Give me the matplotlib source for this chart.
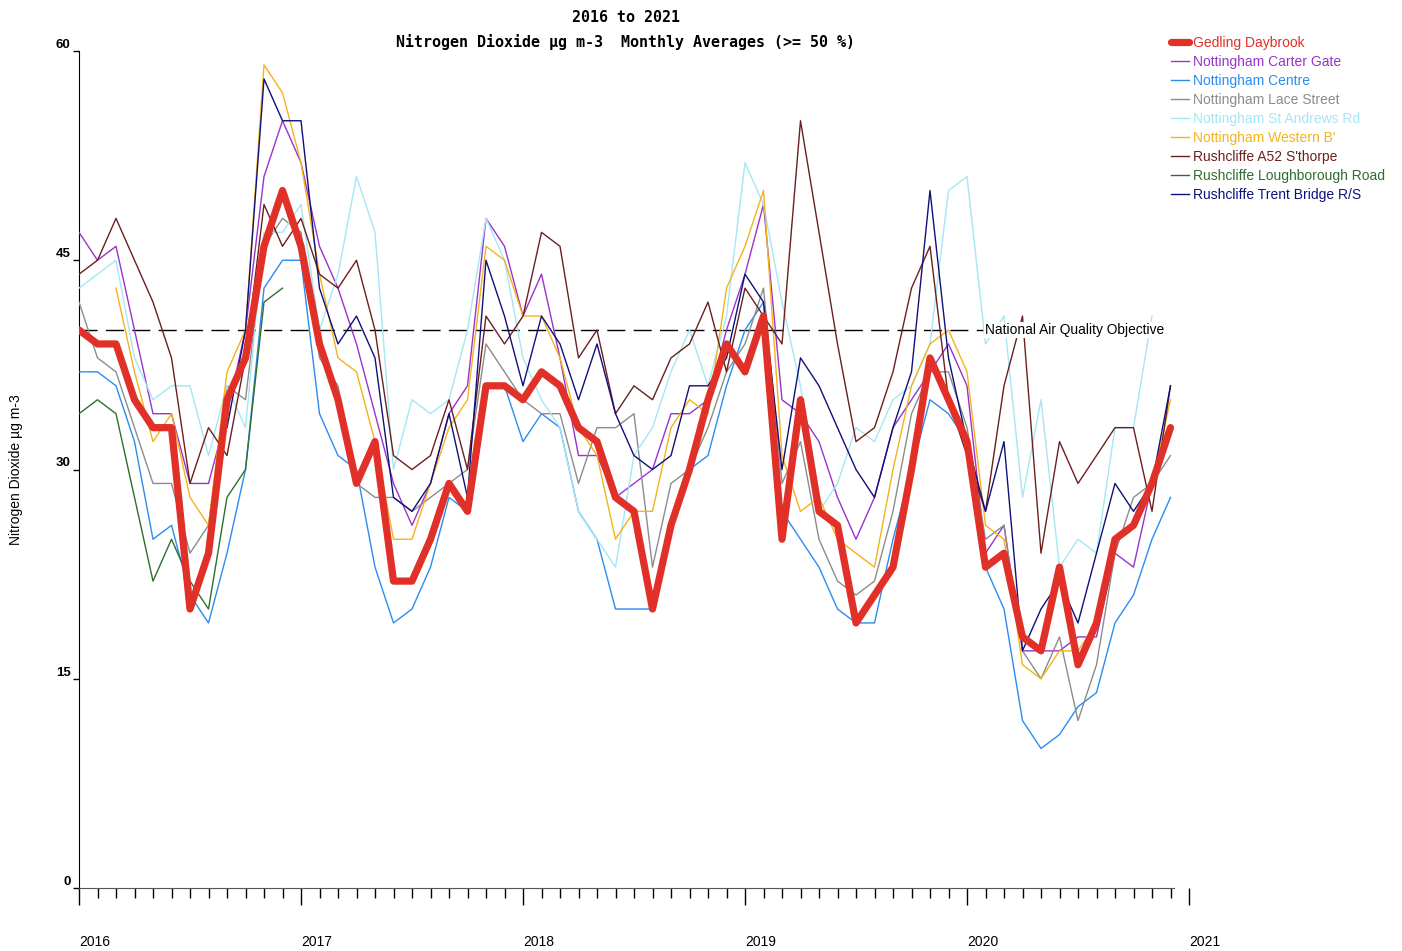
import matplotlib
matplotlib.use("Agg")
import matplotlib.pyplot as plt
import numpy as np

# monthly averages Jan 2016 .. Dec 2020 (None = no data)
months = np.arange(60)
years = ["2016", "2017", "2018", "2019", "2020", "2021"]

gedling = [40, 39, 39, 35, 33, 33, 20, 24, 35, 38,
           46, 50, 46, 39, 35, 29, 32, 22, 22, 25,
           29, 27, 36, 36, 35, 37, 36, 33, 32, 28,
           27, 20, 26, 30, 35, 39, 37, 41, 25, 35,
           27, 26, 19, 21, 23, 30, 38, 35, 32, 23,
           24, 18, 17, 23, 16, 19, 25, 26, 29, 33]
carter_gate = [47, 45, 46, 40, 34, 34, 29, 29, 34, 40,
               51, 55, 52, 46, 43, 39, 34, 29, 26, 29,
               34, 36, 48, 46, 41, 44, 38, 31, 31, 28,
               29, 30, 34, 34, 35, 40, 44, 49, 35, 34,
               32, 28, 25, 28, 33, 35, 37, 39, 36, 24,
               26, 17, 17, 17, 18, 18, 24, 23, 29, 33]
centre = [37, 37, 36, 32, 25, 26, 21, 19, 24, 30,
          43, 45, 45, 34, 31, 30, 23, 19, 20, 23,
          28, 27, 36, 36, 32, 34, 33, 27, 25, 20,
          20, 20, 26, 30, 31, 36, 40, 42, 27, 25,
          23, 20, 19, 19, 25, 30, 35, 34, 32, 23,
          20, 12, 10, 11, 13, 14, 19, 21, 25, 28]
lace_street = [42, 38, 37, 33, 29, 29, 24, 26, 36, 35,
               46, 48, 47, 38, 36, 29, 28, 28, 27, 28,
               29, 30, 39, 37, 35, 34, 34, 29, 33, 33,
               34, 23, 29, 30, 33, 37, 39, 43, 29, 32,
               25, 22, 21, 22, 27, 34, 37, 37, 33, 25,
               26, 17, 15, 18, 12, 16, 24, 28, 29, 31]
st_andrews = [43, 44, 45, 38, 35, 36, 36, 31, 36, 33,
              47, 47, 49, 40, 44, 51, 47, 30, 35, 34,
              35, 40, 48, 45, 38, 35, 33, 27, 25, 23,
              31, 33, 37, 40, 36, 41, 52, 49, 42, 36,
              27, 29, 33, 32, 35, 36, 39, 50, 51, 39,
              41, 28, 35, 23, 25, 24, 33, 33, 41, None]
western_b = [None, None, 43, 37, 32, 34, 28, 26, 37, 40,
             59, 57, 52, 44, 38, 37, 32, 25, 25, 29,
             33, 35, 46, 45, 41, 41, 38, 33, 31, 25,
             27, 27, 33, 35, 34, 43, 46, 50, 31, 27,
             28, 25, 24, 23, 30, 36, 39, 40, 37, 26,
             25, 16, 15, 17, 17, 19, 25, 26, 29, 35]
a52 = [44, 45, 48, 45, 42, 38, 29, 33, 31, 38,
       49, 46, 48, 44, 43, 45, 40, 31, 30, 31,
       35, 30, 41, 39, 41, 47, 46, 38, 40, 34,
       36, 35, 38, 39, 42, 37, 43, 41, 39, 55,
       47, 39, 32, 33, 37, 43, 46, 35, 31, 27,
       36, 41, 24, 32, 29, 31, 33, 33, 27, 36]
loughborough = [34, 35, 34, 28, 22, 25, 22, 20, 28, 30,
                42, 43] + [None] * 48
trent_bridge = [None] * 8 + [33, 40,
                58, 55, 55, 43, 39, 41, 38, 28, 27, 29,
                34, 28, 45, 41, 36, 41, 39, 35, 39, 34,
                31, 30, 31, 36, 36, 38, 44, 42, 30, 38,
                36, 33, 30, 28, 33, 37, 50, 38, 32, 27,
                32, 17, 20, 22, 19, 24, 29, 27, 29, 36]

objective = 40

series = [
    ("Nottingham Carter Gate", carter_gate, "#9933cc"),
    ("Nottingham Centre", centre, "#2b8cf0"),
    ("Nottingham Lace Street", lace_street, "#8c8c8c"),
    ("Nottingham St Andrews Rd", st_andrews, "#a6e6f5"),
    ("Nottingham Western B'", western_b, "#f5b21c"),
    ("Rushcliffe A52 S'thorpe", a52, "#6b1f1f"),
    ("Rushcliffe Loughborough Road", loughborough, "#2e6e2e"),
    ("Rushcliffe Trent Bridge R/S", trent_bridge, "#10107a"),
]

plt.rcParams['font.family'] = ['Liberation Sans', 'DejaVu Sans']

fig = plt.figure(figsize=(14.02, 9.51), dpi=100)
ax = fig.add_axes([79 / 1402, 1 - 888 / 951, (1189 - 79) / 1402, (888 - 51) / 951])

handles = []
red, = ax.plot(months, gedling, color="#e03028", lw=5.2, zorder=5,
               solid_joinstyle="round", solid_capstyle="round",
               label="Gedling Daybrook")
handles.append(red)
for name, vals, col in series:
    ln, = ax.plot(months, np.array(vals, dtype=float), color=col, lw=1.0,
                  zorder=3, label=name)
    handles.append(ln)

ax.axhline(objective, xmin=0, xmax=48.9 / 60, color="black", lw=1.0,
           dashes=(13, 6), zorder=2)
ax.text(48.95, objective, "National Air Quality Objective", fontsize=9.9,
        va="center", ha="left", zorder=4,
        bbox=dict(facecolor="white", edgecolor="none", pad=0.5))

ax.set_xlim(0, 60)
ax.set_ylim(0, 60)
for s in ["top", "right"]:
    ax.spines[s].set_visible(False)
ax.spines["bottom"].set_bounds(0, 59.2)
ax.spines["bottom"].set_color("#555555")

ax.set_xticks(np.arange(0, 61, 12))
ax.set_xticks(np.arange(0, 60), minor=True)
ax.set_xticklabels(years, ha="left", fontsize=10)
ax.tick_params(axis="x", which="major", length=12, width=1, pad=22)
ax.tick_params(axis="x", which="minor", length=7, width=1)

ax.set_yticks([0, 15, 30, 45, 60])
ax.set_yticklabels(["0", "15", "30", "45", "60"], fontsize=9.5,
                   fontweight="bold")
ax.tick_params(axis="y", length=4, width=1, pad=2)
for lab in ax.get_yticklabels():
    lab.set_verticalalignment("bottom")

fig.text(16 / 1402, 1 - 470 / 951, "Nitrogen Dioxide µg m-3", rotation=90,
         ha="center", va="center", fontsize=10)

fig.text(626 / 1402, 1 - 17 / 951, "2016 to 2021", ha="center", va="center",
         family="DejaVu Sans Mono", fontweight="bold", fontsize=10.8)
fig.text(626 / 1402, 1 - 42 / 951,
         "Nitrogen Dioxide µg m-3  Monthly Averages (>= 50 %)",
         ha="center", va="center", family="DejaVu Sans Mono",
         fontweight="bold", fontsize=10.8)

fig.legend(handles=handles, loc="upper left",
           bbox_to_anchor=(1171 / 1402, 1 - 36 / 951), frameon=False,
           fontsize=10, labelcolor="linecolor", handlelength=1.3,
           handletextpad=0.3, labelspacing=0.36, borderpad=0,
           borderaxespad=0)

fig.savefig("out.png", dpi=100)
